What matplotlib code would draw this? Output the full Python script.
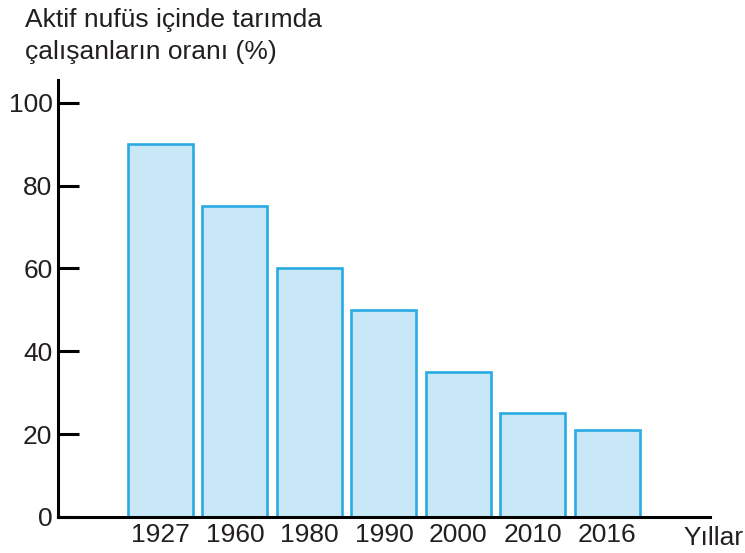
import matplotlib.pyplot as plt

years = ['1927', '1960', '1980', '1990', '2000', '2010', '2016']
share = [90, 75, 60, 50, 35, 25, 21]
y_ticks = [0, 20, 40, 60, 80, 100]
title_lines = ['Aktif nufüs içinde tarımda', 'çalışanların oranı (%)']
x_label = 'Yıllar'

plt.rcParams['font.family'] = ['Liberation Sans', 'DejaVu Sans']
text_color = '#231f20'
fs = 19

W, H = 745, 553
fig = plt.figure(figsize=(W / 100, H / 100), dpi=100)
ax = fig.add_axes([58 / W, 36 / H, (710 - 58) / W, (517 - 80) / H])

pos = list(range(len(years)))
ax.bar(pos, share, width=0.87, color='#c8e8f8', edgecolor='#29abe2',
       linewidth=1.9, zorder=1)

ax.set_xlim(-1.374, 7.377)
ax.set_ylim(0, 105.5)
ax.set_xticks(pos)
ax.set_xticklabels(years)
ax.set_yticks(y_ticks)

for s in ['top', 'right']:
    ax.spines[s].set_visible(False)
for s in ['left', 'bottom']:
    ax.spines[s].set_linewidth(2.2)
    ax.spines[s].set_color('black')

ax.tick_params(axis='y', direction='in', length=15, width=2.2, pad=4,
               labelsize=fs, labelcolor=text_color)
ax.tick_params(axis='x', length=0, pad=4, labelsize=fs,
               labelcolor=text_color)

fig.text(25 / W, 1 - 27 / H, title_lines[0], fontsize=fs,
         color=text_color, va='baseline', ha='left')
fig.text(25 / W, 1 - 59 / H, title_lines[1], fontsize=fs,
         color=text_color, va='baseline', ha='left')
fig.text(683 / W, 1 - 545 / H, x_label, fontsize=fs,
         color=text_color, va='baseline', ha='left')

fig.savefig('out.png', dpi=100)
